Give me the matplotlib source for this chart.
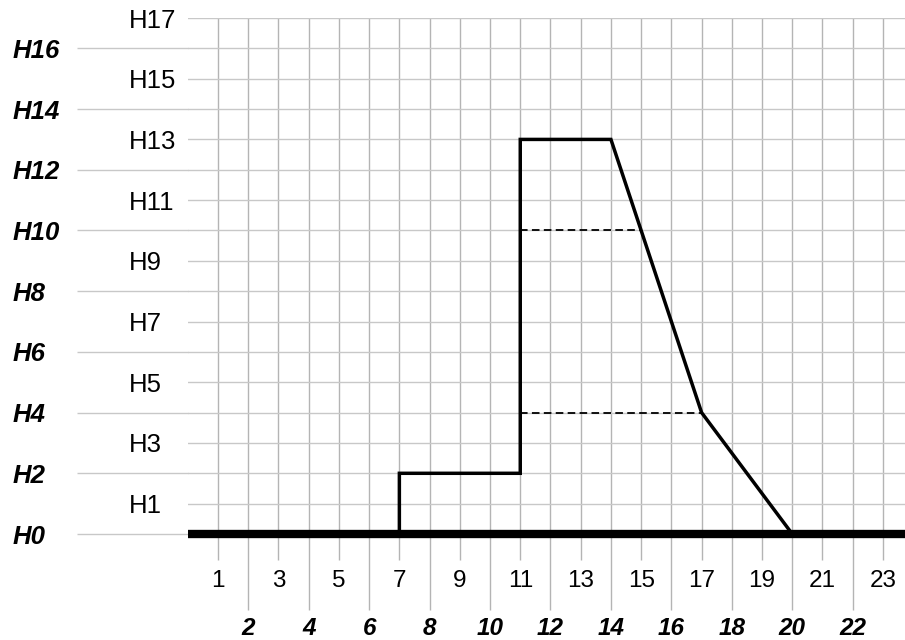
import matplotlib
matplotlib.use("Agg")
import matplotlib.pyplot as plt

plt.rcParams['font.family'] = ['Liberation Sans', 'DejaVu Sans']

# datos de la curva
x_pts = [7, 7, 11, 11, 14, 17, 20]
y_pts = [0, 2, 2, 13, 13, 4, 0]

# lineas punteadas
dash_y = [10, 4]
dash_x0 = [11, 11]
dash_x1 = [15, 17]

# marcas de ejes
x_odd = list(range(1, 24, 2))
x_even = list(range(2, 23, 2))
y_odd = list(range(1, 18, 2))
y_even = list(range(0, 17, 2))

hcol = '#c8c8c8'
vcol = '#b4b4b4'
fs_x = 17.5
fs_y = 18.5

fig = plt.figure(figsize=(9.05, 6.4), dpi=100)
ax = fig.add_axes([187.8 / 905, 1 - 534 / 640, 1 - 187.8 / 905, (534 - 18) / 640])
ax.set_xlim(0, 23.73)
ax.set_ylim(0, 17)
for s in ax.spines.values():
    s.set_visible(False)

ax.set_xticks(x_odd, [str(v) for v in x_odd])
ax.set_xticks(x_even, [str(v) for v in x_even], minor=True)
ax.set_yticks(y_odd, ['H%d' % v for v in y_odd])
ax.set_yticks(y_even, ['H%d' % v for v in y_even], minor=True)

ax.grid(True, axis='x', which='both', color=vcol, lw=1.0)
ax.grid(True, axis='y', which='both', color=hcol, lw=1.0)

ax.tick_params(axis='x', which='major', length=18.7, width=1.0, color=vcol,
               pad=7, labelsize=fs_x)
ax.tick_params(axis='x', which='minor', length=54.7, width=1.0, color=vcol,
               pad=5, labelsize=fs_x)
ax.tick_params(axis='y', which='major', length=0, pad=42.3, labelsize=fs_y)
ax.tick_params(axis='y', which='minor', length=80, width=1.0, color=hcol,
               pad=45.9, labelsize=fs_y)
for lab in ax.get_yticklabels() + ax.get_yticklabels(minor=True):
    lab.set_ha('left')
for lab in ax.get_xticklabels(minor=True) + ax.get_yticklabels(minor=True):
    lab.set_fontweight('bold')
    lab.set_fontstyle('italic')

# linea base gruesa
ax.axhline(0, color='black', lw=6, clip_on=False, zorder=4, solid_capstyle='butt')

# curva
ax.plot(x_pts, y_pts, color='black', lw=2.5, clip_on=False, zorder=5,
        solid_joinstyle='miter')

for y, a, b in zip(dash_y, dash_x0, dash_x1):
    ax.plot([a, b], [y, y], color='black', lw=1.3, ls=(0, (4.2, 2.4)), zorder=4)

fig.savefig('out.png', dpi=100)
